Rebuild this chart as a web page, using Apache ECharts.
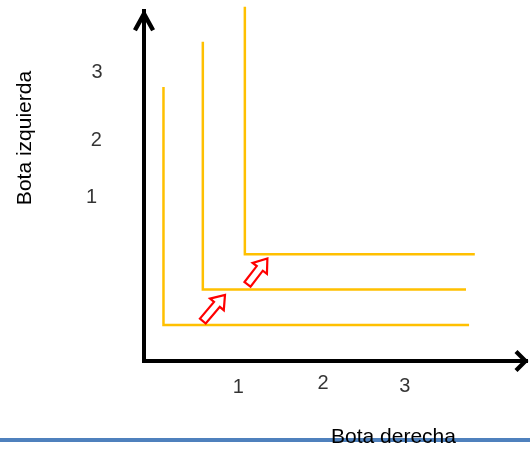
<!DOCTYPE html>
<html>
<head>
<meta charset="utf-8">
<script src="https://cdn.jsdelivr.net/npm/echarts@6/dist/echarts.min.js"></script>
<style>
  html, body { margin: 0; padding: 0; background: #fff; }
  #chart { width: 530px; height: 449px; }
</style>
</head>
<body>
<div id="chart"></div>
<script>
// Indifference curves for perfect complements (left boot vs right boot)
const curveX     = [0.51, 1.54, 2.64];   // right boots at the kink
const curveLevel = [1.03, 2.04, 3.05];   // left boots at the kink
const curveTop   = [7.83, 9.12, 10.12];  // top of the vertical arm
const curveEnd   = [8.51, 8.43, 8.66];   // end of the horizontal arm

// Arrows showing movement to higher curves: [xFrom, yFrom, xTo, yTo]
const arrowFrom = [[1.54, 1.14], [2.71, 2.19]];
const arrowTo   = [[2.12, 1.89], [3.23, 2.93]];

// Quantity labels along each axis
const xTickText = ['1', '2', '3'];
const xTickPos  = [[2.47, -0.75], [4.69, -0.65], [6.83, -0.73]];
const yTickText = ['3', '2', '1'];
const yTickPos  = [[-1.23, 8.24], [-1.25, 6.30], [-1.37, 4.67]];

const xTitle = 'Bota derecha';
const yTitle = 'Bota izquierda';

const FONT = '"Liberation Sans", Arial, sans-serif';
const YELLOW = '#FFC000';
// open arrowheads (drawn pointing up, rotated onto each axis)
const chevronX = 'path://M11,0 L22,11 L19,14 L11,6 L3,14 L0,11 Z';
const chevronY = 'path://M10,0 L20,18 L16.5,19.9 L10,8.2 L3.5,19.9 L0,18 Z';

const curveSeries = curveX.map((x, i) => ({
  type: 'line',
  data: [[x, curveTop[i]], [x, curveLevel[i]], [curveEnd[i], curveLevel[i]]],
  symbol: 'none',
  clip: false,
  silent: true,
  lineStyle: { color: YELLOW, width: 2.5, cap: 'butt', join: 'miter' },
  z: 3
}));

const arrowSeries = {
  type: 'custom',
  data: arrowFrom.map((f, i) => [f[0], f[1], arrowTo[i][0], arrowTo[i][1]]),
  encode: { x: [0, 2], y: [1, 3] },
  clip: false,
  silent: true,
  z: 4,
  renderItem(params, api) {
    const p0 = api.coord([api.value(0), api.value(1)]);
    const p1 = api.coord([api.value(2), api.value(3)]);
    const dx = p1[0] - p0[0], dy = p1[1] - p0[1];
    const len = Math.hypot(dx, dy);
    const ux = dx / len, uy = dy / len, nx = -uy, ny = ux;
    const sw = 3.8, hw = 9, hl = 12.5, b = len - hl;
    const pts = [[-sw, 0], [-sw, b], [-hw, b], [0, len], [hw, b], [sw, b], [sw, 0]]
      .map(([n, t]) => [p0[0] + ux * t + nx * n, p0[1] + uy * t + ny * n]);
    return {
      type: 'polygon',
      shape: { points: pts },
      style: { fill: '#fff', stroke: '#FF0000', lineWidth: 2.2, lineJoin: 'miter' }
    };
  }
};

function tickSeries(pos, text) {
  return {
    type: 'scatter',
    data: pos,
    symbolSize: 0,
    clip: false,
    silent: true,
    label: {
      show: true,
      position: 'inside',
      formatter: p => text[p.dataIndex],
      color: '#000',
      fontSize: 20,
      fontFamily: FONT
    }
  };
}

const axisCommon = {
  type: 'value',
  min: 0,
  max: 10,
  axisTick: { show: false },
  axisLabel: { show: false },
  splitLine: { show: false }
};

const chart = echarts.init(document.getElementById('chart'), null, { renderer: 'canvas' });
chart.setOption({
  animation: false,
  backgroundColor: '#fff',
  grid: { left: 144, right: 4, top: 11, bottom: 88, containLabel: false },
  xAxis: Object.assign({}, axisCommon, {
    axisLine: {
      show: true,
      symbol: ['none', chevronX],
      symbolSize: [22, 14],
      symbolOffset: [0, -4.5],
      lineStyle: { color: '#000', width: 4, cap: 'square' }
    }
  }),
  yAxis: Object.assign({}, axisCommon, {
    axisLine: {
      show: true,
      symbol: ['none', chevronY],
      symbolSize: [22, 22],
      symbolOffset: [0, -9.3],
      lineStyle: { color: '#000', width: 4, cap: 'square' }
    }
  }),
  graphic: [
    {
      type: 'line',
      shape: { x1: 0, y1: 440, x2: 530, y2: 440 },
      style: { stroke: '#4F81BD', lineWidth: 4 },
      z: 1
    },
    {
      type: 'text',
      x: 393.5, y: 437,
      style: { text: xTitle, font: '21px ' + FONT, fill: '#000', align: 'center', verticalAlign: 'middle' },
      z: 10
    },
    {
      type: 'text',
      x: 25, y: 138,
      rotation: Math.PI / 2,
      style: { text: yTitle, font: '21px ' + FONT, fill: '#000', align: 'center', verticalAlign: 'middle' },
      z: 10
    }
  ],
  series: [
    ...curveSeries,
    arrowSeries,
    tickSeries(xTickPos, xTickText),
    tickSeries(yTickPos, yTickText)
  ]
});
</script>
</body>
</html>
